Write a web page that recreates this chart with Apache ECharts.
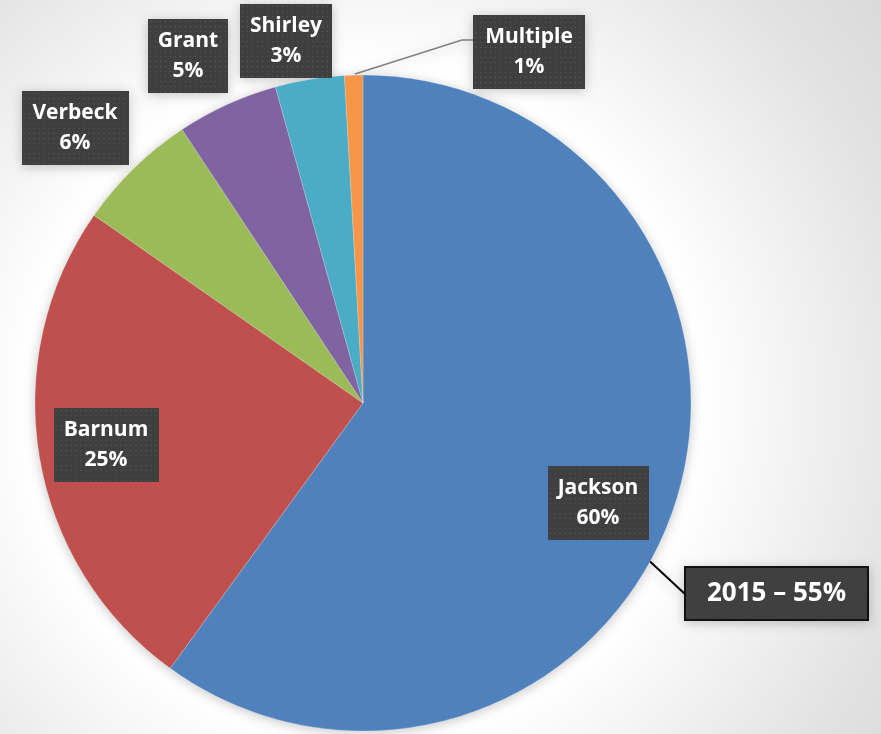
<!DOCTYPE html>
<html>
<head>
<meta charset="utf-8">
<script src="https://cdn.jsdelivr.net/npm/echarts@6/dist/echarts.min.js"></script>
<style>
  html, body { margin: 0; padding: 0; }
  #wrap {
    width: 881px; height: 734px;
    background: radial-gradient(circle at 363px 403px, #ffffff 0, #ffffff 335px, #f4f4f4 420px, #e2e2e2 560px, #d6d6d6 700px);
  }
  #c1 { width: 881px; height: 734px; filter: drop-shadow(0 2px 6px rgba(0,0,0,0.22)); }
</style>
</head>
<body>
<div id="wrap"><div id="c1"></div></div>
<script>
// school share data
const names = ['Jackson', 'Barnum', 'Verbeck', 'Grant', 'Shirley', 'Multiple']
const values = [60, 24.7, 6, 5, 3.4, 0.9]
const colors = ['#4F81BD', '#C0504D', '#9BBB59', '#8064A2', '#4BACC6', '#F79646']
const note = '2015 – 55%'

// label box widths and centres (layout only)
const boxW = [101, 105, 107, 80, 92, 112]
const boxH = 74
const labelPos = [[598, 503], [106, 445], [75, 128], [188, 56], [286, 41], [529, 52]]

const dots = (w, h) => {
  const cv = document.createElement('canvas')
  cv.width = w
  cv.height = h
  const ctx = cv.getContext('2d')
  ctx.fillStyle = '#3f3f3f'
  ctx.fillRect(0, 0, w, h)
  ctx.fillStyle = '#5a5a5a'
  for (let y = 2; y < h; y += 5) {
    for (let x = 2; x < w; x += 5) {
      ctx.fillRect(x, y, 1, 1)
    }
  }
  return cv
}

const total = values.reduce((a, b) => a + b, 0)
const font = '"Open Sans", Lato, sans-serif'

const myChart = echarts.init(document.getElementById('c1'))
const option = {
  animation: false,
  backgroundColor: 'transparent',
  series: [
    {
      type: 'pie',
      center: [363, 403],
      radius: 328,
      startAngle: 90,
      clockwise: true,
      avoidLabelOverlap: false,
      itemStyle: {
        borderColor: 'rgba(255,255,255,0.35)',
        borderWidth: 0.6
      },
      label: {
        show: true,
        position: 'outside',
        formatter: (p) => p.name + '\n' + Math.round(p.value / total * 100) + '%',
        color: '#ffffff',
        fontFamily: font,
        fontWeight: 'bold',
        fontSize: 21,
        lineHeight: 30,
        align: 'center',
        padding: [10, 0, 4, 0],
        height: 60,
        shadowColor: 'rgba(0,0,0,0.45)',
        shadowBlur: 4,
        shadowOffsetX: 3,
        shadowOffsetY: 3
      },
      labelLine: { show: false },
      labelLayout: (params) => {
        const i = params.dataIndex
        const res = {
          x: labelPos[i][0],
          y: labelPos[i][1],
          align: 'center',
          verticalAlign: 'middle'
        }
        if (i === 5) {
          res.labelLinePoints = [[355, 74], [462, 40], [473, 40]]
        }
        return res
      },
      data: names.map((n, i) => ({
        name: n,
        value: values[i],
        itemStyle: { color: colors[i] },
        label: {
          width: boxW[i],
          backgroundColor: { image: dots(boxW[i], boxH) }
        },
        labelLine: i === 5 ? { show: true, lineStyle: { color: '#7f7f7f', width: 1.5 } } : { show: false }
      }))
    }
  ],
  graphic: [
    {
      type: 'line',
      shape: { x1: 628, y1: 541, x2: 686, y2: 595 },
      style: { stroke: '#000000', lineWidth: 2 }
    },
    {
      type: 'rect',
      shape: { x: 685, y: 567, width: 183, height: 53 },
      style: { fill: '#404040', stroke: '#111111', lineWidth: 2 }
    },
    {
      type: 'text',
      x: 776.5,
      y: 594,
      style: {
        text: note,
        fill: '#ffffff',
        font: 'bold 26px ' + font,
        align: 'center',
        verticalAlign: 'middle'
      }
    }
  ]
}
option && myChart.setOption(option)
</script>
</body>
</html>
